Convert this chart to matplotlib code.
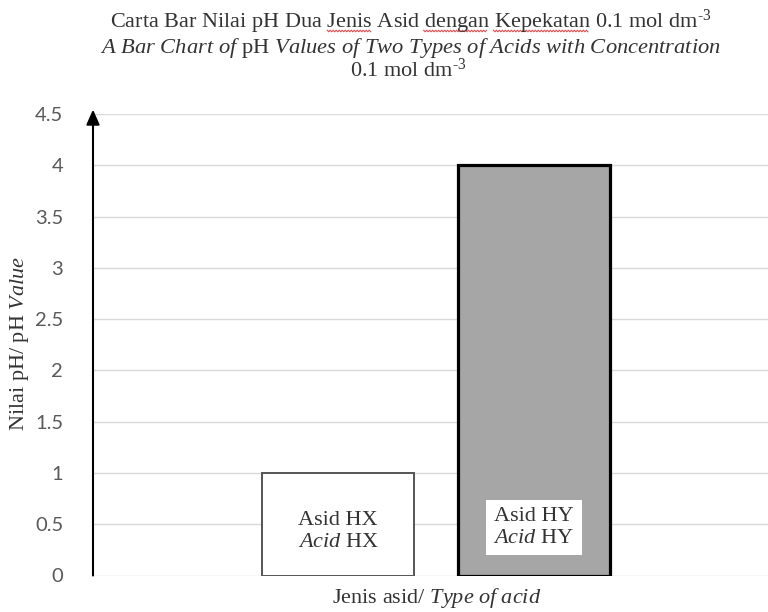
import numpy as np
import matplotlib
matplotlib.use("Agg")
import matplotlib.pyplot as plt

# Data
acids = ["HX", "HY"]
ph_values = [1.0, 4.0]
bar_labels = ["Asid HX\n$\\mathit{Acid}$ HX", "Asid HY\n$\\mathit{Acid}$ HY"]
y_ticks = [0, 0.5, 1, 1.5, 2, 2.5, 3, 3.5, 4, 4.5]
y_ticklabels = ["0", "0.5", "1", "1.5", "2", "2.5", "3", "3.5", "4", "4.5"]

title_ms = "Carta Bar Nilai pH Dua Jenis Asid dengan Kepekatan 0.1 mol dm$^{\\text{-3}}$"
title_en = "A Bar Chart of $\\mathrm{pH}$ Values of Two Types of Acids with Concentration"
title_conc = "0.1 mol dm$^{\\text{-3}}$"
x_label = "Jenis asid/ $\\mathit{Type\\ of\\ acid}$"
y_label = "Nilai pH/ pH $\\mathit{Value}$"
flagged_words = ["Jenis", "dengan", "Kepekatan"]

plt.rcParams.update({
    "mathtext.fontset": "custom",
    "mathtext.rm": "Liberation Serif",
    "mathtext.it": "Liberation Serif:italic",
    "mathtext.bf": "Liberation Serif:bold",
})

SERIF = "Liberation Serif"
TXT = "#333333"
W, H = 768, 612
fig = plt.figure(figsize=(W / 100, H / 100), dpi=100)
fig.patch.set_facecolor("white")


def fx(px):
    return px / W


def fy(py):
    return 1 - py / H


ax = fig.add_axes([93 / W, 36.5 / H, 675 / W, 461.5 / H])

x = np.arange(len(acids))
bars = ax.bar(x, ph_values, width=0.778, zorder=3)
bars[0].set_facecolor("white")
bars[0].set_edgecolor("#555555")
bars[0].set_linewidth(1.4)
bars[1].set_facecolor("#a6a6a6")
bars[1].set_edgecolor("black")
bars[1].set_linewidth(2.3)

ax.set_xlim(-1.255, 2.199)
ax.set_ylim(0, 4.5)
ax.set_xticks([])
ax.set_yticks(y_ticks)
ax.set_yticklabels(y_ticklabels, family="Lato", fontsize=14.5, color="#595959")
ax.tick_params(axis="y", length=0, pad=21.5)
ax.yaxis.grid(True, color="#d9d9d9", lw=1.0)
ax.set_axisbelow(True)
for s in ax.spines.values():
    s.set_visible(False)

# vertical axis with arrowhead
ax.annotate("", xy=(0, 1.0095), xytext=(0, 0), xycoords="axes fraction",
            arrowprops=dict(arrowstyle="-|>,head_length=0.45,head_width=0.2",
                            mutation_scale=20, color="black", lw=1.5,
                            shrinkA=0, shrinkB=0),
            annotation_clip=False, zorder=5)

# labels inside bars
ax.text(x[0], 0.43, bar_labels[0], ha="center", va="center", family=SERIF,
        fontsize=16, color=TXT, zorder=4)
ax.text(x[1], 0.47, bar_labels[1], ha="center", va="center", family=SERIF,
        fontsize=16, color=TXT, zorder=4,
        bbox=dict(boxstyle="square,pad=0.33", facecolor="white", edgecolor="none"))

# titles
t1 = fig.text(fx(411), fy(28), title_ms, ha="center", va="baseline",
              family=SERIF, fontsize=16, color=TXT)
fig.text(fx(411), fy(52.5), title_en, ha="center", va="baseline",
         family=SERIF, style="italic", fontsize=16.2, color=TXT)
fig.text(fx(408), fy(77), title_conc, ha="center", va="baseline",
         family=SERIF, fontsize=16, color=TXT)

# axis titles
fig.text(fx(437), fy(598), x_label, ha="center", va="center",
         family=SERIF, fontsize=16, color=TXT)
fig.text(fx(20), fy(343), y_label, ha="center", va="center", rotation=90,
         family=SERIF, fontsize=16, color=TXT)

# spell-check squiggles under flagged words of the first title line
fig.canvas.draw()
renderer = fig.canvas.get_renderer()


def text_width(s):
    t = fig.text(0, 0, s, family=SERIF, fontsize=16)
    w = t.get_window_extent(renderer).width
    t.remove()
    return w


x0 = t1.get_window_extent(renderer).x0
base_y = H - 28 - 3
for word in flagged_words:
    idx = title_ms.index(word)
    end = x0 + text_width(title_ms[:idx + len(word)])
    start = end - text_width(word)
    xs = np.arange(start, end + 0.1, 1.5)
    ys = base_y + np.where(np.arange(len(xs)) % 2 == 0, 0.8, -0.8)
    fig.add_artist(plt.Line2D(xs / W, ys / H, color="#e05050", lw=0.8,
                              transform=fig.transFigure))

fig.savefig("out.png", dpi=100, facecolor="white")
